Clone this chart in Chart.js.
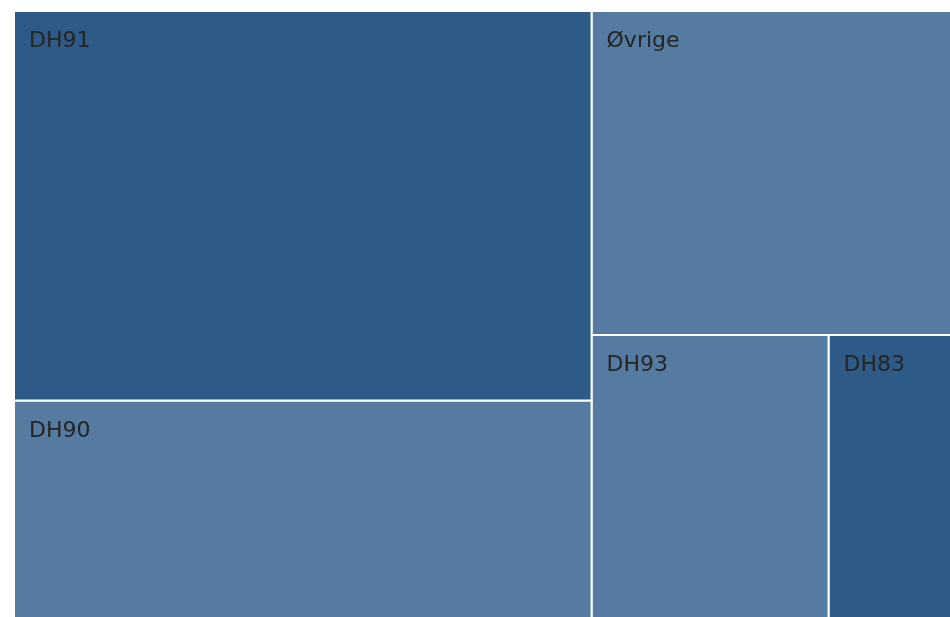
<!DOCTYPE html>
<html>
<head>
<meta charset="utf-8">
<script src="https://cdn.jsdelivr.net/npm/chart.js@4.4.1/dist/chart.umd.min.js"></script>
<style>
html,body{margin:0;padding:0;overflow:hidden;background:#ffffff;}
#wrap{position:absolute;left:0;top:0;width:952px;height:619px;}
</style>
</head>
<body>
<div id="wrap"><canvas id="c"></canvas></div>
<script>
// ---- data ----
const labels = ['DH91', 'DH90', 'Øvrige', 'DH93', 'DH83'];
const values = [396, 221, 205, 118, 61];
const shade = ['dark', 'light', 'light', 'light', 'dark'];

// ---- styles ----
const palette = { dark: '#2E5A88', light: '#557CA0' };
const textColor = '#252525';

// d3-style squarified treemap layout (golden ratio) computed from the values
function squarify(vals, W, H) {
  const nodes = vals.map((v, i) => ({ i, v })).sort((a, b) => b.v - a.v);
  const out = new Array(vals.length);
  const ratio = (1 + Math.sqrt(5)) / 2;
  let x0 = 0, y0 = 0, x1 = W, y1 = H;
  let value = nodes.reduce((s, n) => s + n.v, 0);
  let i0 = 0, i1 = 0;
  const n = nodes.length;
  while (i0 < n) {
    const dx = x1 - x0, dy = y1 - y0;
    let sum = nodes[i1++].v;
    let minV = sum, maxV = sum;
    const alpha = Math.max(dy / dx, dx / dy) / (value * ratio);
    let beta = sum * sum * alpha;
    let minRatio = Math.max(maxV / beta, beta / minV);
    for (; i1 < n; ++i1) {
      const nv = nodes[i1].v;
      sum += nv;
      if (nv < minV) minV = nv;
      if (nv > maxV) maxV = nv;
      beta = sum * sum * alpha;
      const nr = Math.max(maxV / beta, beta / minV);
      if (nr > minRatio) { sum -= nv; break; }
      minRatio = nr;
    }
    const row = nodes.slice(i0, i1);
    if (dx < dy) {
      const yb = y0 + dy * sum / value;
      let x = x0;
      row.forEach(nd => { const w = dx * nd.v / sum; out[nd.i] = { x0: x, y0: y0, x1: x + w, y1: yb }; x += w; });
      y0 = yb;
    } else {
      const xb = x0 + dx * sum / value;
      let y = y0;
      row.forEach(nd => { const h = dy * nd.v / sum; out[nd.i] = { x0: x0, y0: y, x1: xb, y1: y + h }; y += h; });
      x0 = xb;
    }
    value -= sum;
    i0 = i1;
  }
  return out;
}

const labelPlugin = {
  id: 'cellLabels',
  afterDatasetsDraw(chart) {
    const ctx = chart.ctx;
    ctx.save();
    ctx.font = '22px "DejaVu Sans"';
    ctx.fillStyle = textColor;
    ctx.textAlign = 'left';
    ctx.textBaseline = 'alphabetic';
    chart.data.datasets.forEach((ds, i) => {
      const meta = chart.getDatasetMeta(i);
      const p = meta.data[0];
      if (!p) return;
      ctx.fillText(ds.label, p.x + 15, p.y + 36);
    });
    ctx.restore();
  }
};

const chart = new Chart(document.getElementById('c'), {
  type: 'scatter',
  data: { datasets: [] },
  options: {
    responsive: true,
    maintainAspectRatio: false,
    animation: false,
    events: [],
    layout: { padding: { left: 14, top: 11, right: 1, bottom: 1 } },
    scales: {
      x: { type: 'linear', min: 0, max: 100, display: false },
      y: { type: 'linear', min: 0, max: 100, reverse: true, display: false }
    },
    plugins: { legend: { display: false }, tooltip: { enabled: false } },
    elements: { point: { radius: 0, hoverRadius: 0 }, line: { tension: 0 } }
  },
  plugins: [labelPlugin]
});

const area = chart.chartArea;
const W = area.right - area.left, H = area.bottom - area.top;
const rects = squarify(values, W, H);
chart.data.datasets = rects.map((r, i) => {
  const ax = 100 * r.x0 / W, bx = 100 * r.x1 / W;
  const ay = 100 * r.y0 / H, by = 100 * r.y1 / H;
  return {
    label: labels[i],
    data: [{ x: ax, y: ay }, { x: bx, y: ay }, { x: bx, y: by }, { x: ax, y: by }, { x: ax, y: ay }],
    showLine: true,
    fill: 'shape',
    backgroundColor: palette[shade[i]],
    borderColor: '#ffffff',
    borderWidth: 2,
    pointRadius: 0
  };
});
chart.update();
</script>
</body>
</html>
